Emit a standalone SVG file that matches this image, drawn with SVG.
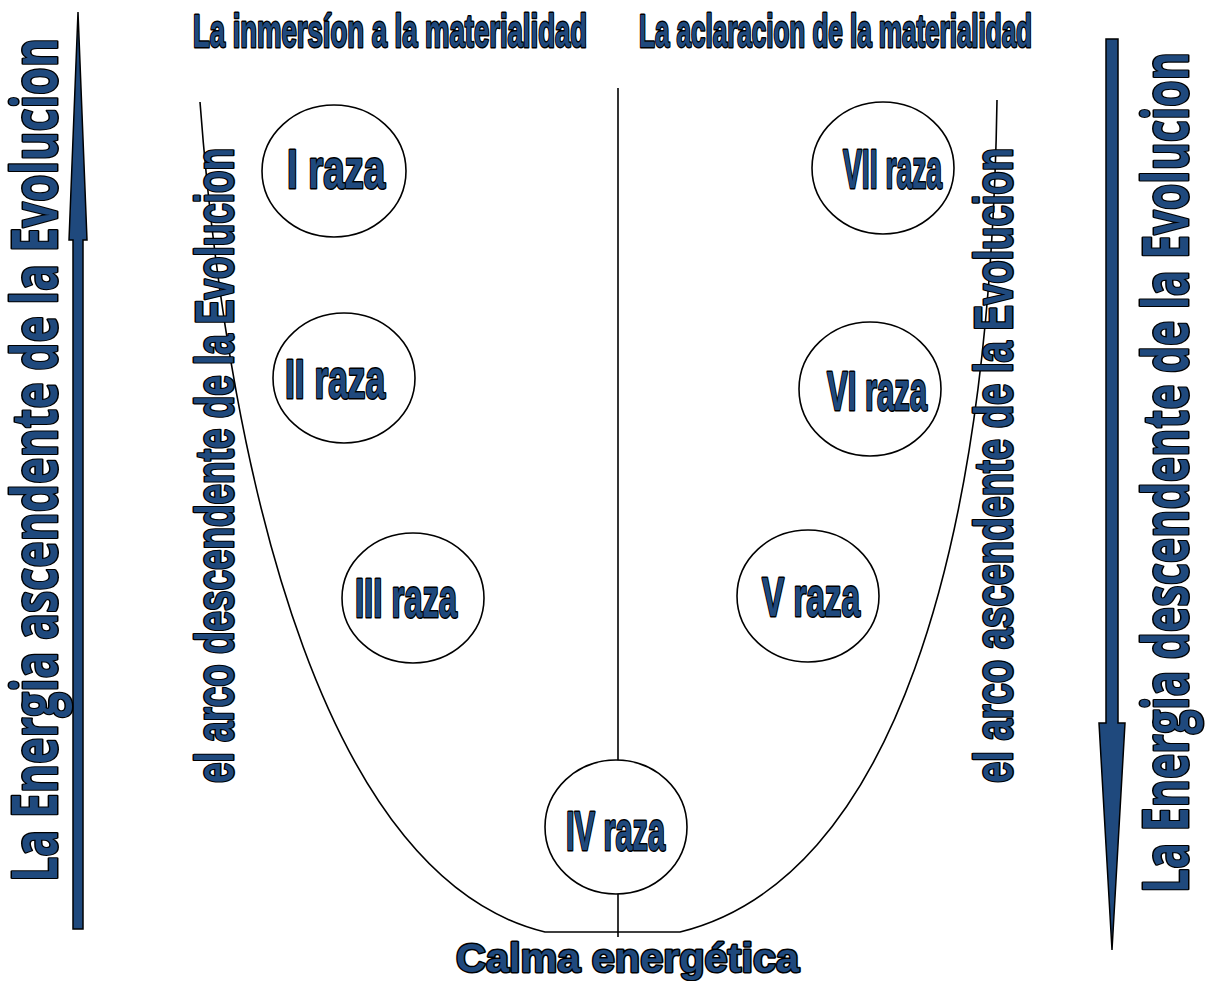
<svg xmlns="http://www.w3.org/2000/svg" width="1207" height="981" viewBox="0 0 1207 981">
<style>
.t{font-family:"Liberation Sans Narrow","Liberation Sans",Arial,sans-serif;font-weight:bold;fill:#1F497D;stroke:#000;stroke-width:3;paint-order:stroke;stroke-linejoin:round}
.big{font-family:"Open Sans","Noto Sans",sans-serif;font-weight:bold;fill:#1F497D;stroke:#000;stroke-width:3;paint-order:stroke;stroke-linejoin:round}
.calm{font-family:"Liberation Sans",Arial,sans-serif;font-weight:bold;fill:#1F497D;stroke:#000;stroke-width:3;paint-order:stroke;stroke-linejoin:round}
.node ellipse{fill:#fff;stroke:#000;stroke-width:1.6}
.ln{fill:none;stroke:#000;stroke-width:1.6}
.arr{fill:#1F497D;stroke:#000;stroke-width:1.5;stroke-linejoin:miter}
</style>
<rect width="1207" height="981" fill="#fff"/>
<g id="connectors">
<path class="ln" d="M200,102 C230,500 330,880 545,932 L680,932 C890,880 990,560 997,100"/>
<line class="ln" x1="618" y1="88" x2="618" y2="761"/>
<line class="ln" x1="618" y1="893" x2="618" y2="937"/>
</g>
<g id="arrow-left">
<polygon class="arr" points="78,12 87,240 83,240 83,929 73,929 73,240 69,240"/>
</g>
<g id="arrow-right">
<polygon class="arr" points="1106,39 1118,39 1118,723 1125,723 1112,950 1099,723 1106,723"/>
</g>
<g id="titles">
<text class="t" x="193" y="47" font-size="46" textLength="394" lengthAdjust="spacingAndGlyphs">La inmersíon a la materialidad</text>
<text class="t" x="639" y="47" font-size="46" textLength="393" lengthAdjust="spacingAndGlyphs">La aclaracion de la materialidad</text>
</g>
<g id="side-texts">
<text class="big" transform="translate(57,882) rotate(-90)" font-size="63" textLength="844" lengthAdjust="spacingAndGlyphs">La Energia ascendente de la Evolucion</text>
<text class="big" transform="translate(1188,893) rotate(-90)" font-size="63" textLength="841" lengthAdjust="spacingAndGlyphs">La Energia descendente de la Evolucion</text>
<text class="t" transform="translate(233,783) rotate(-90)" font-size="53" textLength="635" lengthAdjust="spacingAndGlyphs">el arco descendente de la Evolucion</text>
<text class="t" transform="translate(1012,783) rotate(-90)" font-size="53" textLength="635" lengthAdjust="spacingAndGlyphs">el arco ascendente de la Evolucion</text>
</g>
<g id="node-I" class="node">
<ellipse cx="334" cy="171" rx="72" ry="66"/>
<text class="t" x="287" y="188" font-size="56" textLength="98" lengthAdjust="spacingAndGlyphs">I raza</text>
</g>
<g id="node-II" class="node">
<ellipse cx="344" cy="378" rx="71" ry="65"/>
<text class="t" x="285" y="398" font-size="56" textLength="100" lengthAdjust="spacingAndGlyphs">II raza</text>
</g>
<g id="node-III" class="node">
<ellipse cx="413" cy="598" rx="71" ry="65"/>
<text class="t" x="355" y="617" font-size="56" textLength="102" lengthAdjust="spacingAndGlyphs">III raza</text>
</g>
<g id="node-IV" class="node">
<ellipse cx="616" cy="827" rx="71" ry="67"/>
<text class="t" x="566" y="850" font-size="56" textLength="99" lengthAdjust="spacingAndGlyphs">IV raza</text>
</g>
<g id="node-V" class="node">
<ellipse cx="808" cy="596" rx="71" ry="66"/>
<text class="t" x="762" y="616" font-size="56" textLength="98" lengthAdjust="spacingAndGlyphs">V raza</text>
</g>
<g id="node-VI" class="node">
<ellipse cx="870" cy="389" rx="71" ry="67"/>
<text class="t" x="827" y="410" font-size="56" textLength="100" lengthAdjust="spacingAndGlyphs">VI raza</text>
</g>
<g id="node-VII" class="node">
<ellipse cx="883" cy="168" rx="71" ry="66"/>
<text class="t" x="843" y="188" font-size="56" textLength="99" lengthAdjust="spacingAndGlyphs">VII raza</text>
</g>
<g id="bottom-label">
<text class="calm" x="456" y="972" font-size="41" textLength="343" lengthAdjust="spacingAndGlyphs">Calma energética</text>
</g>
</svg>
